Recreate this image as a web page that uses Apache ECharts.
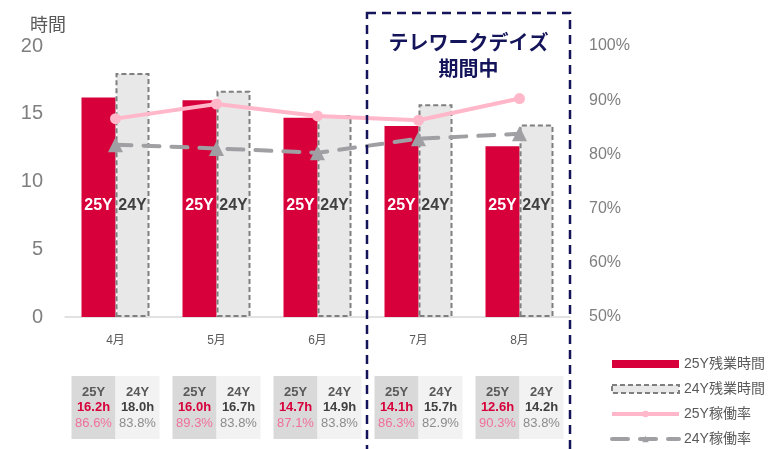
<!DOCTYPE html>
<html><head><meta charset="utf-8">
<script src="https://cdn.jsdelivr.net/npm/echarts@6/dist/echarts.min.js"></script>
<style>html,body{margin:0;padding:0;background:#fff}#c{width:776px;height:449px}</style>
</head><body><div id="c"></div>
<script>
const months = ['4月','5月','6月','7月','8月'];
const hours25 = [16.2, 16.0, 14.7, 14.1, 12.6];
const hours24 = [18.0, 16.7, 14.9, 15.7, 14.2];
const rate25 = [86.6, 89.3, 87.1, 86.3, 90.3];
const rate24 = [81.8, 81.1, 80.3, 82.9, 83.8];
const tableRate24 = ['83.8%', '83.8%', '83.8%', '82.9%', '83.8%'];
const seriesNames = ['25Y残業時間', '24Y残業時間', '25Y稼働率', '24Y稼働率'];
const leftTicks = {min: 0, max: 20, interval: 5};
const rightTicks = {min: 50, max: 100, interval: 10};
const leftAxisTitle = '時間';
const boxTitle = ['テレワークデイズ', '期間中'];

const FONT = "'Liberation Sans','Noto Sans CJK JP',sans-serif";
const chart = echarts.init(document.getElementById('c'), null, {renderer: 'canvas'});
const option = {
  animation: false,
  textStyle: {fontFamily: FONT},
  grid: {left: 65, right: 206, top: 46, bottom: 132},
  legend: {
    orient: 'vertical', left: 610, top: 357, height: 100, padding: 0,
    itemWidth: 67, itemHeight: 8, itemGap: 11,
    textStyle: {color: '#595959', fontSize: 14, fontFamily: FONT},
    data: [
      {name: seriesNames[0], icon: 'rect'},
      {name: seriesNames[1], icon: 'rect', itemStyle: {borderType: [5, 3], borderWidth: 2, borderColor: '#7f7f7f'}},
      {name: seriesNames[2], lineStyle: {width: 4}},
      {name: seriesNames[3], lineStyle: {width: 4}}
    ]
  },
  xAxis: {
    type: 'category', data: months,
    axisLine: {lineStyle: {color: '#d9d9d9', width: 1.5}},
    axisTick: {show: false},
    axisLabel: {color: '#595959', fontSize: 12, margin: 18}
  },
  yAxis: [
    {type: 'value', min: leftTicks.min, max: leftTicks.max, interval: leftTicks.interval,
     splitLine: {show: false}, axisLine: {show: false}, axisTick: {show: false},
     axisLabel: {color: '#7f7f7f', fontSize: 20, margin: 22}},
    {type: 'value', min: rightTicks.min, max: rightTicks.max, interval: rightTicks.interval,
     splitLine: {show: false}, axisLine: {show: false}, axisTick: {show: false},
     axisLabel: {color: '#7f7f7f', fontSize: 16, margin: 19, formatter: '{value}%'}}
  ],
  series: [
    {name: seriesNames[0], type: 'bar', data: hours25, barWidth: 34, barGap: '0%',
     itemStyle: {color: '#d7003a'},
     label: {show: true, position: 'insideBottom', distance: 103, formatter: '25Y',
             color: '#ffffff', fontWeight: 'bold', fontSize: 16}},
    {name: seriesNames[1], type: 'bar', data: hours24, barWidth: 34,
     itemStyle: {color: '#e8e8e8', borderColor: '#7f7f7f', borderWidth: 2, borderType: [5, 3]},
     label: {show: true, position: 'insideBottom', distance: 103, formatter: '24Y',
             color: '#404040', fontWeight: 'bold', fontSize: 16}},
    {name: seriesNames[2], type: 'line', yAxisIndex: 1, data: rate25, z: 5,
     symbol: 'circle', symbolSize: 11,
     lineStyle: {color: '#ffb7c9', width: 4}, itemStyle: {color: '#ffb7c9'}},
    {name: seriesNames[3], type: 'line', yAxisIndex: 1, data: rate24, z: 4,
     symbol: 'triangle', symbolSize: 15,
     lineStyle: {color: '#a0a0a4', width: 4, type: [16, 12], cap: 'round'},
     itemStyle: {color: '#a0a0a4'}}
  ]
};
chart.setOption(option);

// Build table + box decorations from axis positions
const gfx = [];
const xs = months.map(m => chart.convertToPixel({xAxisIndex: 0}, m));
const cellHalf = 44, cellTop = 376, cellH = 63;
months.forEach((m, i) => {
  const cx = xs[i];
  gfx.push({type: 'rect', shape: {x: cx - cellHalf, y: cellTop, width: cellHalf, height: cellH}, style: {fill: '#d9d9d9'}});
  gfx.push({type: 'rect', shape: {x: cx, y: cellTop, width: cellHalf, height: cellH}, style: {fill: '#f2f2f2'}});
  const lx = cx - cellHalf / 2, rx = cx + cellHalf / 2;
  const t = (x, y, s, fill, bold) => gfx.push({type: 'text', x: x, y: y,
    style: {text: s, fill: fill, font: (bold ? 'bold ' : '') + '13px ' + FONT, textAlign: 'center', textVerticalAlign: 'middle'}});
  t(lx, 392, '25Y', '#595959', true);
  t(lx, 407, hours25[i].toFixed(1) + 'h', '#d7003a', true);
  t(lx, 423, rate25[i].toFixed(1) + '%', '#f0709a', false);
  t(rx, 392, '24Y', '#595959', true);
  t(rx, 407, hours24[i].toFixed(1) + 'h', '#404040', true);
  t(rx, 423, tableRate24[i], '#8c8c8c', false);
});
gfx.push({type: 'text', x: 48, y: 24, style: {text: leftAxisTitle, fill: '#595959',
  font: "18px 'Noto Sans CJK JP',sans-serif", textAlign: 'center', textVerticalAlign: 'middle'}});
const bx0 = (xs[2] + xs[3]) / 2 - 1;
const bx1 = xs[4] + (xs[4] - xs[3]) / 2;
gfx.push({type: 'rect', shape: {x: bx0, y: 13, width: bx1 - bx0, height: 460},
  style: {fill: 'none', stroke: '#14145a', lineWidth: 2.5, lineDash: [9, 6]}, z: 10});
const bcx = (bx0 + bx1) / 2;
gfx.push({type: 'text', x: bcx, y: 42, z: 10, style: {text: boxTitle[0], fill: '#14145a',
  font: "bold 20px 'Noto Sans CJK JP',sans-serif", textAlign: 'center', textVerticalAlign: 'middle'}});
gfx.push({type: 'text', x: bcx, y: 68, z: 10, style: {text: boxTitle[1], fill: '#14145a',
  font: "bold 20px 'Noto Sans CJK JP',sans-serif", textAlign: 'center', textVerticalAlign: 'middle'}});
chart.setOption({graphic: gfx});
</script></body></html>
